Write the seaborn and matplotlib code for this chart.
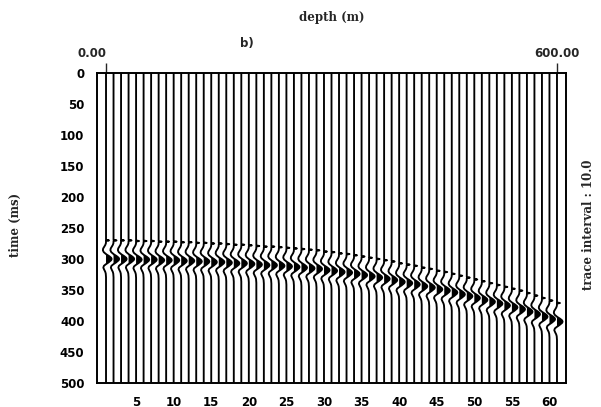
import numpy as np
import pandas as pd
import matplotlib
matplotlib.use("Agg")
import matplotlib.pyplot as plt
import seaborn as sns

# ---- data ----
trace_numbers = list(range(1, 62))            # 61 traces, 10 m apart
depth_labels = ["0.00", "600.00"]
trace_interval = 10.0
# arrival time (ms) of the main (filled) peak on each trace
arrival_ms = [300, 300, 300, 300, 301, 301, 301, 302, 302, 302,
              303, 303, 304, 304, 305, 305, 306, 307, 307, 308,
              309, 310, 310, 311, 312, 313, 314, 315, 316, 318,
              319, 321, 322, 324, 326, 328, 330, 332, 334, 337,
              339, 341, 344, 346, 349, 351, 354, 357, 360, 363,
              366, 369, 372, 375, 378, 381, 385, 389, 393, 397,
              401]
# wavelet samples (time offset in ms from peak, amplitude in trace spacings)
wavelet_t = [-36, -31, -30, -29, -26, -23, -20, -17, -14, -11, -8, -5, -2, 0,
             2, 5, 8, 11, 14, 17, 20, 23, 28]
wavelet_a = [0.0, 0.0, 0.40, 0.0, 0.0, -0.08, -0.22, -0.38, -0.42, -0.30, -0.02, 0.38,
             0.68, 0.75, 0.68, 0.40, 0.02, -0.28, -0.36, -0.26, -0.12, -0.04, 0.0]
y_ticks = list(range(0, 501, 50))
x_ticks = list(range(5, 61, 5))

# ---- build traces ----
time = np.arange(0, 501, 0.5)
rows = []
for tr, t0 in zip(trace_numbers, arrival_ms):
    amp = np.interp(time - t0, wavelet_t, wavelet_a, left=0.0, right=0.0)
    rows.append(pd.DataFrame({"trace": tr, "time": time, "amp": amp, "x": tr + amp}))
df = pd.concat(rows, ignore_index=True)

sns.set_style("white")
plt.rcParams["font.family"] = ["DejaVu Sans"]

fig = plt.figure(figsize=(6.01, 4.07), dpi=100)
ax = fig.add_axes([97 / 601, 1 - 383 / 407, (566 - 97) / 601, (383 - 73) / 407])

sns.lineplot(data=df, x="x", y="time", units="trace", estimator=None, sort=False,
             orient="y", color="black", linewidth=1.35, ax=ax, legend=False)
for tr, g in df.groupby("trace"):
    ax.fill_betweenx(g["time"].values, tr, g["x"].values, where=g["amp"].values > 0,
                     color="black", linewidth=0, interpolate=True)

ax.set_xlim(-0.2, 62.2)
ax.set_ylim(500, 0)
ax.set_xticks(x_ticks)
ax.set_yticks(y_ticks)
ax.set_xlabel("")
ax.set_ylabel("")
for s in ax.spines.values():
    s.set_color("black")
    s.set_linewidth(1.4)
ax.tick_params(axis="both", direction="out", length=6, width=1.2, colors="black",
               labelsize=8.5, pad=3)
for lab in ax.get_xticklabels() + ax.get_yticklabels():
    lab.set_fontweight("bold")

# top depth axis
top = ax.secondary_xaxis("top")
top.set_xticks([trace_numbers[0], trace_numbers[-1]])
top.tick_params(direction="out", length=7, width=1.0, pad=2, labelsize=8.5)
top.set_xticklabels(depth_labels)
top.spines["top"].set_visible(False)
tl = top.get_xticklabels()
for t in tl:
    t.set_fontweight("bold")
    t.set_fontsize(8.5)
tl[0].set_horizontalalignment("right")

fig.text(15 / 601, 1 - 225 / 407, "time (ms)", ha="center", va="center", rotation=90,
         fontsize=8.5, fontweight="bold", family="DejaVu Serif")
fig.text(332 / 601, 1 - 17 / 407, "depth (m)", ha="center", va="center",
         fontsize=8.5, fontweight="bold", family="DejaVu Serif")
fig.text(247 / 601, 1 - 43 / 407, "b)", ha="center", va="center",
         fontsize=8.5, fontweight="bold")
fig.text(589 / 601, 1 - 225 / 407, "trace interval : %.1f" % trace_interval,
         ha="center", va="center", rotation=90, fontsize=8.5, fontweight="bold",
         family="DejaVu Serif")

fig.savefig("out.png", dpi=100)
